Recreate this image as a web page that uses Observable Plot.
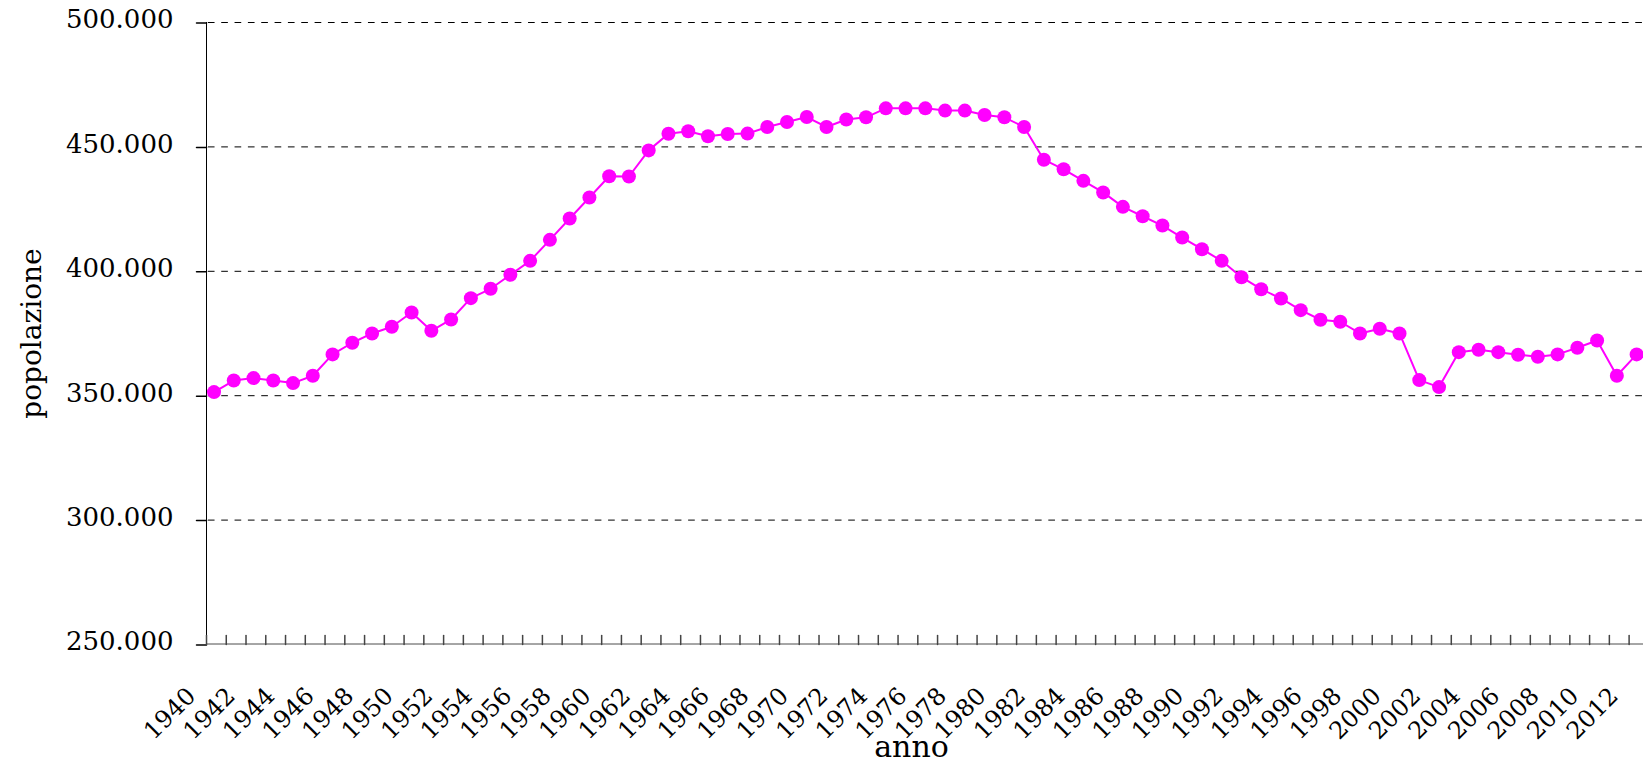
<!DOCTYPE html>
<html><head><meta charset="utf-8">
<script src="https://cdn.jsdelivr.net/npm/d3@7"></script>
<script src="https://cdn.jsdelivr.net/npm/@observablehq/plot@0.6"></script>
<style>
html,body{margin:0;padding:0;background:#fff;overflow:hidden;width:1643px;height:761px}
#chart svg{max-width:none!important;display:block}
</style></head>
<body><div id="chart"></div>
<script>
const years = [1940,1941,1942,1943,1944,1945,1946,1947,1948,1949,
  1950,1951,1952,1953,1954,1955,1956,1957,1958,1959,
  1960,1961,1962,1963,1964,1965,1966,1967,1968,1969,
  1970,1971,1972,1973,1974,1975,1976,1977,1978,1979,
  1980,1981,1982,1983,1984,1985,1986,1987,1988,1989,
  1990,1991,1992,1993,1994,1995,1996,1997,1998,1999,
  2000,2001,2002,2003,2004,2005,2006,2007,2008,2009,
  2010,2011,2012];
const population = [351450,356100,357070,356100,355060,358030,366590,371280,375020,377700,
  383450,376100,380640,389200,392970,398590,404210,412650,421200,429640,
  438200,438100,448600,455300,456300,454300,455200,455350,458000,460000,
  462000,458000,461000,461900,465500,465500,465500,464600,464600,462850,
  461900,458000,444850,441000,436350,431700,425900,422130,418390,413570,
  408870,404210,397630,392810,389080,384380,380520,379720,375020,376900,
  375020,356270,353460,367510,368470,367510,366470,365660,366590,369280,
  372210,358030,366590];
const xLabelYears = [1940,1942,1944,1946,1948,1950,1952,1954,1956,1958,1960,1962,1964,1966,1968,
  1970,1972,1974,1976,1978,1980,1982,1984,1986,1988,1990,1992,1994,1996,1998,2000,2002,2004,
  2006,2008,2010,2012];
const yTicks = [250000,300000,350000,400000,450000,500000];
const yTickLabels = ["250.000","300.000","350.000","400.000","450.000","500.000"];
const gridValues = [300000,350000,400000,450000,500000];
const xTitle = "anno";
const yTitle = "popolazione";

const data = years.map((year, i) => ({year, pop: population[i]}));
// tick marks sit between the yearly points (band edges)
const xTicks = years.map(y => y - 0.38).concat([2012.62]);
const tickLine = {draw(ctx, l) { ctx.moveTo(0, 0); ctx.lineTo(0, -l); }};
const font = "DejaVu Serif";

const chart = Plot.plot({
  width: 1646, height: 761,
  marginLeft: 206, marginRight: 0, marginTop: 22, marginBottom: 117,
  style: {fontFamily: font, background: "#fff", maxWidth: "none", color: "#000"},
  x: {type: "linear", domain: [1939.62, 2012.5], axis: null},
  y: {domain: [250000, 500000], axis: null},
  marks: [
    Plot.ruleY(gridValues, {stroke: "#000", strokeWidth: 1, strokeDasharray: "6.67,6.67", strokeDashoffset: 11.46}),
    Plot.ruleY([250000], {stroke: "#000", strokeOpacity: 0.7, dy: -0.5}),
    Plot.ruleX([1939.62], {y1: 250000, y2: 500000, stroke: "#000"}),
    Plot.vector(yTicks, {y: d => d, frameAnchor: "left", rotate: -90, length: 10, anchor: "start", shape: tickLine, stroke: "#000", dy: 0.5}),
    Plot.vector(xTicks, {x: d => d, frameAnchor: "bottom", length: 9, anchor: "start", shape: tickLine, stroke: "#444"}),
    Plot.line(data, {x: "year", y: "pop", stroke: "#ff00ff", strokeWidth: 2}),
    Plot.dot(data, {x: "year", y: "pop", r: 7, fill: "#ff00ff", stroke: null}),
    Plot.text(xLabelYears, {x: d => d, frameAnchor: "bottom", text: d => String(d), rotate: -45, textAnchor: "end", lineAnchor: "bottom", dx: -17, dy: 53, fontSize: 24, fill: "#000"}),
    Plot.text(yTicks, {y: d => d, frameAnchor: "left", text: (d, i) => yTickLabels[i], textAnchor: "end", dx: -33, dy: -2.5, fontSize: 26, fill: "#000"}),
    Plot.text([xTitle], {frameAnchor: "bottom", text: d => d, lineAnchor: "bottom", dx: -15, dy: 112, fontSize: 30, fill: "#000"}),
    Plot.text([yTitle], {frameAnchor: "left", text: d => d, rotate: -90, textAnchor: "middle", dx: -174, fontSize: 28, fill: "#000"})
  ]
});
document.getElementById("chart").appendChild(chart);
</script>
</body></html>
